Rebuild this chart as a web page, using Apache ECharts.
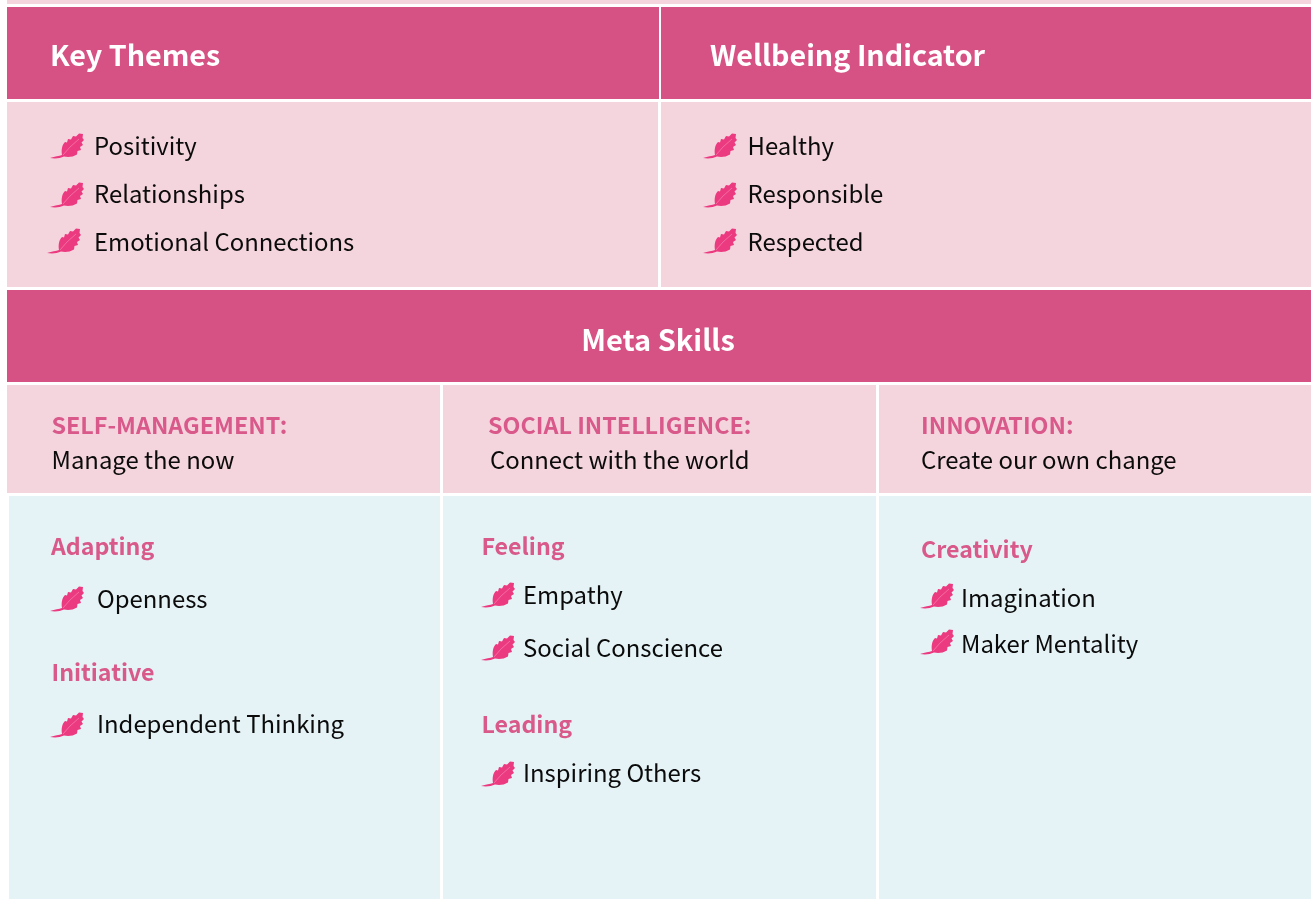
<!DOCTYPE html>
<html lang="en">
<head>
    <meta charset="UTF-8">
    <title>Key Themes and Meta Skills</title>
    <script src="https://cdn.jsdelivr.net/npm/echarts@6/dist/echarts.min.js"></script>
    <style>
        html, body { margin: 0; padding: 0; background: #fff; }
        #main { width: 1311px; height: 899px; }
    </style>
</head>
<body>
<div id="main"></div>
<script>
    var headers = ['Key Themes', 'Wellbeing Indicator', 'Meta Skills'];
    var keyThemes = ['Positivity', 'Relationships', 'Emotional Connections'];
    var wellbeing = ['Healthy', 'Responsible', 'Respected'];
    var metaTitles = ['SELF-MANAGEMENT:', 'SOCIAL INTELLIGENCE:', 'INNOVATION:'];
    var metaSubtitles = ['Manage the now', 'Connect with the world', 'Create our own change'];
    var groups = ['Adapting', 'Initiative', 'Feeling', 'Leading', 'Creativity'];
    var skills = ['Openness', 'Independent Thinking', 'Empathy', 'Social Conscience', 'Inspiring Others', 'Imagination', 'Maker Mentality'];

    var PINK = '#d75284', LIGHT = '#f4d5dd', BLUE = '#e5f3f7', LEAF = '#ec3a80', TITLE = '#d9598a';
    var FONT = '"Noto Sans CJK SC", "Noto Sans", sans-serif';

    // the feather/leaf bullet, registered so graphic elements can use it by name
    var LEAF_PATH = 'M-1 25 C4 23.5 8 23 11 22 C10 17 11 12 14 9 L16 9.5 L17 6 L20 6.5 L22 3 L25 3.5 L28 0.5 L32 1 L31.5 5 L33 7 ' +
        'L30.5 9.5 L32 12 L29 14 L30 17 L26.5 18 L26 21.5 C22 24 17 24.5 13 23.5 C9 25.5 4 26 -1 25 Z';
    echarts.graphic.registerShape('leaf', echarts.graphic.extendPath(LEAF_PATH, {}));

    var elements = [];
    function rect(x, y, w, h, fill) {
        elements.push({ type: 'rect', shape: { x: x, y: y, width: w, height: h }, style: { fill: fill } });
    }
    function text(str, x, y, size, color, weight, align) {
        elements.push({
            type: 'text', x: x, y: y,
            style: { text: str, fill: color, font: (weight || 400) + ' ' + size + 'px ' + FONT, textAlign: align || 'left', textVerticalAlign: 'middle' }
        });
    }
    function leaf(x, y) {
        elements.push({ type: 'leaf', x: x, y: y, style: { fill: LEAF } });
        elements.push({ type: 'polyline', x: x, y: y, shape: { points: [[12, 22], [19, 14], [28, 6]] }, style: { fill: null, stroke: '#f47aa8', lineWidth: 0.8 } });
    }
    function item(str, leafX, leafY, textX, textY) {
        leaf(leafX, leafY);
        text(str, textX, textY, 23.9, '#0b0b0b');
    }

    // backgrounds
    rect(7, 0, 1304, 4, LIGHT);
    rect(7, 7, 652, 92, PINK);
    rect(661, 7, 650, 92, PINK);
    rect(7, 102, 651, 185, LIGHT);
    rect(661, 102, 650, 185, LIGHT);
    rect(7, 290, 1304, 92, PINK);
    rect(7, 385, 433, 108, LIGHT);
    rect(443, 385, 433, 108, LIGHT);
    rect(879, 385, 432, 108, LIGHT);
    rect(9, 496, 431, 403, BLUE);
    rect(443, 496, 433, 403, BLUE);
    rect(879, 496, 432, 403, BLUE);

    // headers
    text(headers[0], 50, 55, 28.7, '#fff', 700);
    text(headers[1], 710, 55, 28.7, '#fff', 700);
    text(headers[2], 658, 340, 29, '#fff', 700, 'center');

    // top two lists
    var rowY = [146, 194, 242];
    var leafTop = [133, 182, 228];
    keyThemes.forEach(function (s, i) { item(s, i === 2 ? 48 : 51, leafTop[i], 94, rowY[i]); });
    wellbeing.forEach(function (s, i) { item(s, 704, leafTop[i], 747.5, rowY[i]); });

    // meta skill columns
    var titleX = [51.5, 488, 921], subX = [51.5, 490, 921];
    metaTitles.forEach(function (s, i) { text(s, titleX[i], 425, 23.3, TITLE, 600); });
    metaSubtitles.forEach(function (s, i) { text(s, subX[i], 460, 23.9, '#0b0b0b'); });

    var groupX = [51, 51.5, 481.5, 481.5, 921], groupY = [546, 672, 546, 724, 549];
    groups.forEach(function (s, i) { text(s, groupX[i], groupY[i], 23.2, TITLE, 600); });

    var skillLeafX = [51, 51, 482, 482, 482, 921, 921], skillLeafY = [586, 712, 582, 635, 761, 583, 629];
    var skillX = [97, 97, 523, 523, 523, 961, 961], skillY = [599, 724, 595, 648, 773, 598, 644];
    skills.forEach(function (s, i) { item(s, skillLeafX[i], skillLeafY[i], skillX[i], skillY[i]); });

    var myChart = echarts.init(document.getElementById('main'), null, { renderer: 'canvas' });
    myChart.setOption({
        animation: false,
        backgroundColor: '#fff',
        graphic: { elements: elements }
    });
</script>
</body>
</html>
